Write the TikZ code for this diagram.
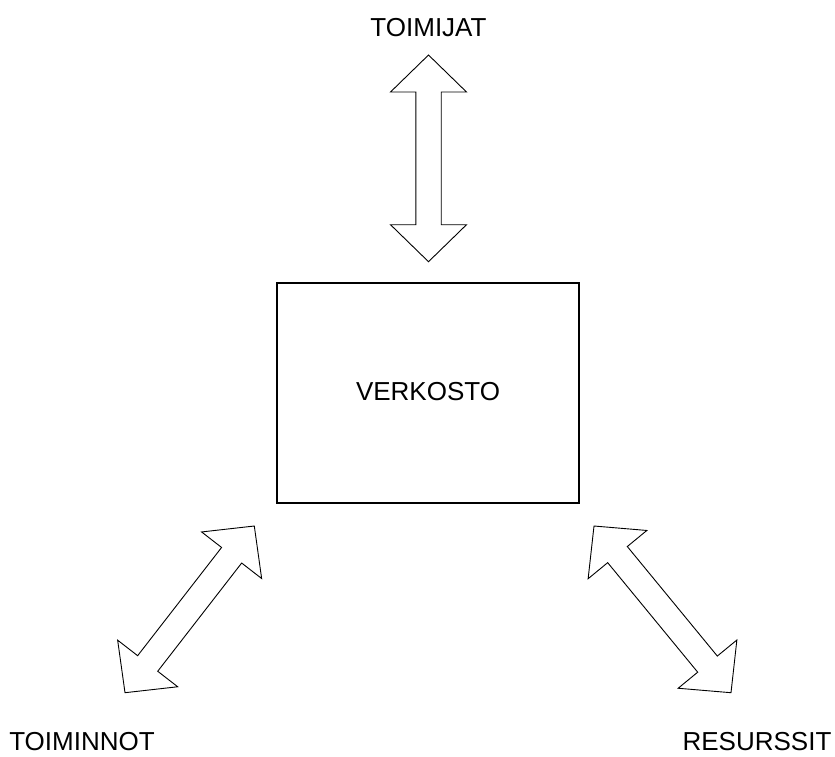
\documentclass[tikz,border=0pt]{standalone}
\usepackage{fontspec}
\setmainfont{Liberation Sans}
\usetikzlibrary{calc}

% Hollow double-headed block arrow between two tip coordinates
\newcommand\blockarrow[2]{%
  \draw[arrowline]
    (#1)
    -- ($($(#1)!\headlen!(#2)$)!\headhalf!90:(#2)$)
    -- ($($(#1)!\headlen!(#2)$)!\shafthalf!90:(#2)$)
    -- ($($(#2)!\headlen!(#1)$)!\shafthalf!-90:(#1)$)
    -- ($($(#2)!\headlen!(#1)$)!\headhalf!-90:(#1)$)
    -- (#2)
    -- ($($(#2)!\headlen!(#1)$)!\headhalf!90:(#1)$)
    -- ($($(#2)!\headlen!(#1)$)!\shafthalf!90:(#1)$)
    -- ($($(#1)!\headlen!(#2)$)!\shafthalf!-90:(#2)$)
    -- ($($(#1)!\headlen!(#2)$)!\headhalf!-90:(#2)$)
    -- cycle;}
\newcommand\headlen{37pt}
\newcommand\headhalf{38pt}
\newcommand\shafthalf{12.7pt}

\begin{document}
\begin{tikzpicture}[x=1pt,y=-1pt,
  arrowline/.style={draw=black,line width=0.9pt,line join=miter,fill=white},
  label/.style={inner sep=0pt,font=\fontsize{26}{30}\selectfont},
  mainbox/.style={draw=black,line width=1.1pt,fill=white}]
  \useasboundingbox[fill=white] (0,0) rectangle (835,756);

  % central box
  \draw[mainbox] (277,283) rectangle (579,503);
  \node[label] (verkosto) at (428,391.5) {VERKOSTO};

  % outer labels
  \node[label] (toimijat)  at (428.5,28)  {TOIMIJAT};
  \node[label] (toiminnot) at (82,742)    {TOIMINNOT};
  \node[label] (resurssit) at (757,742)   {RESURSSIT};

  % arrow tips
  \coordinate (topA) at (428.5,55);
  \coordinate (topB) at (428.5,261.7);
  \coordinate (leftA) at (254.3,526);
  \coordinate (leftB) at (125,692.7);
  \coordinate (rightA) at (594,526);
  \coordinate (rightB) at (731,692.7);

  \blockarrow{topA}{topB}
  \blockarrow{leftA}{leftB}
  \blockarrow{rightA}{rightB}
\end{tikzpicture}
\end{document}
